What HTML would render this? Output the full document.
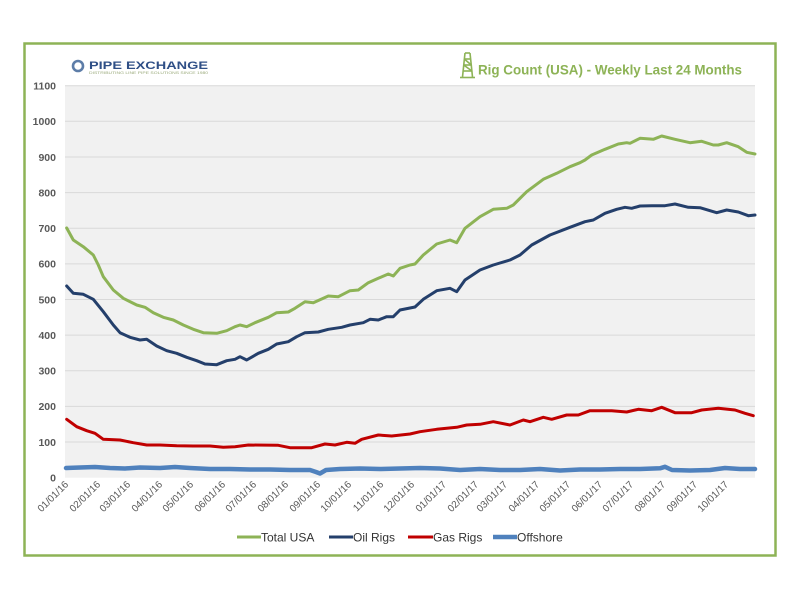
<!DOCTYPE html>
<html><head><meta charset="utf-8"><style>
html,body{margin:0;padding:0;background:#fff;}
svg{display:block;}
</style></head><body>
<svg width="800" height="600" viewBox="0 0 800 600" xmlns="http://www.w3.org/2000/svg" font-family="Liberation Sans, sans-serif">
<rect x="0" y="0" width="800" height="600" fill="#fff"/>
<rect x="24.5" y="43.5" width="751" height="512" fill="#fff" stroke="#8db356" stroke-width="2.5"/>
<!-- logo -->
<circle cx="78" cy="66" r="5" fill="none" stroke="#5d7da8" stroke-width="2.6"/>
<text x="89" y="69" font-size="11" font-weight="bold" fill="#2f4f86" textLength="119" lengthAdjust="spacingAndGlyphs">PIPE EXCHANGE</text>
<text x="89" y="74" font-size="3.5" fill="#9aaa7a" textLength="119" lengthAdjust="spacingAndGlyphs">DISTRIBUTING LINE PIPE SOLUTIONS SINCE 1980</text>
<!-- derrick icon -->
<g stroke="#8db356" stroke-width="1.6" fill="none">
<line x1="465" y1="53" x2="470" y2="53"/>
<line x1="465" y1="53" x2="462.5" y2="77"/>
<line x1="470" y1="53" x2="472.5" y2="77"/>
<line x1="464.3" y1="59" x2="470.7" y2="59"/>
<line x1="463.7" y1="65" x2="471.3" y2="65"/>
<line x1="463.1" y1="71" x2="471.9" y2="71"/>
<line x1="464.3" y1="59" x2="471.3" y2="65"/>
<line x1="463.7" y1="65" x2="471.9" y2="71"/>
<line x1="460" y1="77.5" x2="475" y2="77.5"/>
</g>
<text x="478" y="74.5" font-size="14" font-weight="bold" fill="#8db356" textLength="264" lengthAdjust="spacingAndGlyphs">Rig Count (USA) - Weekly Last 24 Months</text>
<!-- plot area -->
<rect x="65" y="85.7" width="690" height="392" fill="#f1f1f1"/>
<g stroke="#d9d9d9" stroke-width="1">
<line x1="65" x2="755" y1="85.7" y2="85.7"/>
<line x1="65" x2="755" y1="121.3" y2="121.3"/>
<line x1="65" x2="755" y1="157" y2="157"/>
<line x1="65" x2="755" y1="192.6" y2="192.6"/>
<line x1="65" x2="755" y1="228.2" y2="228.2"/>
<line x1="65" x2="755" y1="263.9" y2="263.9"/>
<line x1="65" x2="755" y1="299.5" y2="299.5"/>
<line x1="65" x2="755" y1="335.1" y2="335.1"/>
<line x1="65" x2="755" y1="370.8" y2="370.8"/>
<line x1="65" x2="755" y1="406.4" y2="406.4"/>
<line x1="65" x2="755" y1="442" y2="442"/>
</g>
<g font-size="10.5" font-weight="bold" fill="#595959" text-anchor="end">
<text x="56" y="89.5">1100</text>
<text x="56" y="125.1">1000</text>
<text x="56" y="160.8">900</text>
<text x="56" y="196.4">800</text>
<text x="56" y="232">700</text>
<text x="56" y="267.7">600</text>
<text x="56" y="303.3">500</text>
<text x="56" y="338.9">400</text>
<text x="56" y="374.6">300</text>
<text x="56" y="410.2">200</text>
<text x="56" y="445.8">100</text>
<text x="56" y="481.5">0</text>
</g>
<!-- x labels -->
<g font-size="10" fill="#595959" text-anchor="end">
<text transform="translate(69,485) rotate(-45)">01/01/16</text>
<text transform="translate(101,485) rotate(-45)">02/01/16</text>
<text transform="translate(131,485) rotate(-45)">03/01/16</text>
<text transform="translate(163,485) rotate(-45)">04/01/16</text>
<text transform="translate(194,485) rotate(-45)">05/01/16</text>
<text transform="translate(226,485) rotate(-45)">06/01/16</text>
<text transform="translate(257,485) rotate(-45)">07/01/16</text>
<text transform="translate(289,485) rotate(-45)">08/01/16</text>
<text transform="translate(321,485) rotate(-45)">09/01/16</text>
<text transform="translate(352,485) rotate(-45)">10/01/16</text>
<text transform="translate(384,485) rotate(-45)">11/01/16</text>
<text transform="translate(415,485) rotate(-45)">12/01/16</text>
<text transform="translate(447,485) rotate(-45)">01/01/17</text>
<text transform="translate(479,485) rotate(-45)">02/01/17</text>
<text transform="translate(508,485) rotate(-45)">03/01/17</text>
<text transform="translate(540,485) rotate(-45)">04/01/17</text>
<text transform="translate(571,485) rotate(-45)">05/01/17</text>
<text transform="translate(603,485) rotate(-45)">06/01/17</text>
<text transform="translate(634,485) rotate(-45)">07/01/17</text>
<text transform="translate(666,485) rotate(-45)">08/01/17</text>
<text transform="translate(698,485) rotate(-45)">09/01/17</text>
<text transform="translate(729,485) rotate(-45)">10/01/17</text>
</g>
<!-- series -->
<g fill="none" stroke-linejoin="round" stroke-linecap="round">
<polyline stroke="#4f81bd" stroke-width="4.5" points="66,468 80,467.5 95,467 110,468 125,468.5 140,467.5 160,468 175,467 190,468 210,469 230,469 250,469.5 270,469.5 290,470 310,470 316,472 320,473.5 326,470 340,469 360,468.5 380,469 400,468.5 420,468 440,468.5 460,470 480,469 500,470 520,470 540,469 560,470.5 580,469.5 600,469.5 620,469 640,469 660,468.3 665,466.8 672,470 690,470.5 710,470 725,468 740,469 755,469"/>
<polyline stroke="#c00000" stroke-width="3" points="66.7,419.3 76.7,426.7 86.7,430.7 95,433.3 103.3,439.3 120,440 133.3,442.7 146.7,445 160,445 176.7,445.7 193.3,446 210,446 223.3,447.3 235,446.7 248.3,445 278.3,445.3 290,447.7 311.7,447.7 325,444 335,445 346.7,442.3 355,443.3 361.7,439.3 378.3,435 391.7,436 410,434 420,431.7 436.7,429.3 456.7,427.3 466.7,425 480,424.3 493.3,421.7 510,425 523.3,420 530,421.7 543.3,417.3 551.7,419.3 566.7,415 578.3,415 590,410.7 595,410.7 611.7,410.7 626.7,412 638.3,409.3 651.7,410.7 661.7,407.3 675,412.7 691.7,412.7 701.7,410 718.3,408.3 735,410 745,413.3 753.3,415.7"/>
<polyline stroke="#243f6b" stroke-width="3" points="66.7,286 73.3,293.3 83.3,294.3 93.3,299.3 103.3,311.7 113.3,325 120,332.7 130,337.3 140,340 146.7,339.3 156.7,346 166.7,350.7 176.7,353.3 186.7,357.3 196.7,360.7 205,364 216.7,364.7 226.7,360.7 235,359.3 240,356.7 246.7,360 258.3,353.3 268.3,349.3 276.7,344 288.3,341.7 296.7,336.7 305,332.7 318.3,332 328.3,329.3 341.7,327.3 350,325 363.3,322.7 370,319.3 378.3,320 386.7,316.7 393.3,316.7 400,310 410,308 415,307 423.3,299.3 436.7,290.7 450,288.3 456.7,291.7 465,280 480,270 493.3,265 510,260 520,255 531.7,245 550,235 570,227.3 585,221.7 593.3,220 605,213.3 616.7,209.3 625,207.3 631.7,208.3 640,206 651.7,205.7 665,205.7 675,204 688.3,207.3 700,207.7 716.7,212.7 726.7,210 738.3,212 748.3,215.7 755,215"/>
<polyline stroke="#8db356" stroke-width="3" points="66.7,228 73.3,240 83.3,246.7 93.3,255 98.3,265 103.3,276.7 113.3,290 123.3,298.3 136.7,305 145,307.3 153.3,312.7 163.3,317.3 173.3,320 183.3,325 193.3,329.3 203.3,332.7 216.7,333.3 226.7,330.7 235,326.7 240,325 246.7,326.7 255,322.7 268.3,317.3 276.7,312.7 288.3,312 295,308.3 305,301.7 313.3,302.7 328.3,296 338.3,296.7 350,290.7 358.3,290 368.3,282.7 378.3,278.3 388.3,274 393.3,276 400,268.3 410,265 415,264 423.3,255 436.7,244 450,240 456.7,242.7 465,228.3 480,216.7 493.3,209.3 506.7,208.3 513.3,205 526.7,191.7 543.3,179.3 556.7,173.3 570,166.7 580,162.7 585,160 591.7,155 605,149.3 618.3,144 626.7,142.7 630,143.3 640,138.3 653.3,139.3 661.7,136 675,139.3 690,142.7 701.7,141.3 713.3,145 718.3,145 726.7,142.7 738.3,146.7 746.7,152.3 755,154"/>
</g>
<!-- legend -->
<g stroke-linecap="butt">
<line x1="237" y1="537" x2="261" y2="537" stroke="#8db356" stroke-width="3"/>
<line x1="329" y1="537" x2="353" y2="537" stroke="#243f6b" stroke-width="3"/>
<line x1="408" y1="537" x2="433" y2="537" stroke="#c00000" stroke-width="3"/>
<line x1="493" y1="537" x2="517" y2="537" stroke="#4f81bd" stroke-width="4.5"/>
</g>
<g font-size="12" fill="#333333">
<text x="261" y="541.5">Total USA</text>
<text x="353" y="541.5">Oil Rigs</text>
<text x="433" y="541.5">Gas Rigs</text>
<text x="517" y="541.5">Offshore</text>
</g>
</svg>
</body></html>
